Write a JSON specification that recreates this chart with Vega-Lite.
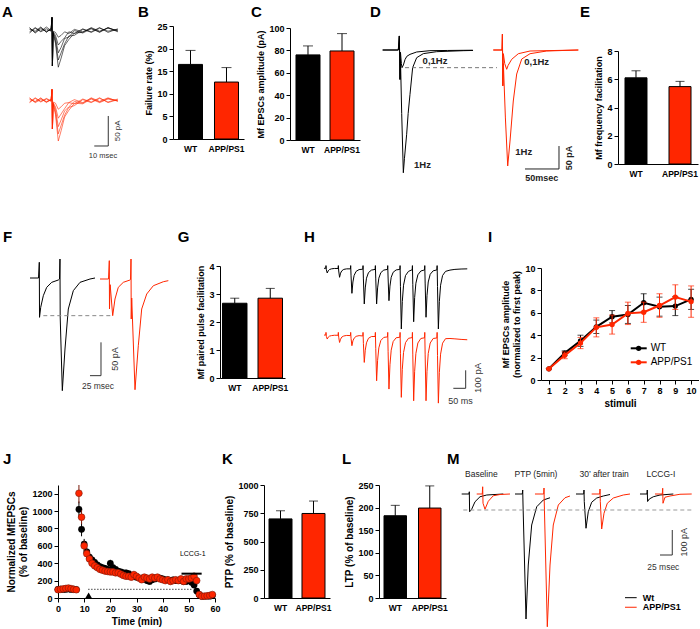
{
"$schema": "https://vega.github.io/schema/vega-lite/v6.json",
"padding": {"left": 2, "top": 4, "right": 0, "bottom": 0},
"background": "white",
"config": {
  "view": {"stroke": null},
  "font": "Liberation Sans",
  "axis": {"domainColor": "#000", "tickColor": "#000", "labelColor": "#000", "titleColor": "#000", "labelFont": "Liberation Sans", "titleFont": "Liberation Sans", "labelFontWeight": "bold", "titleFontWeight": "bold", "labelFontSize": 9, "titleFontSize": 9, "tickSize": 4, "grid": false, "labelPadding": 2, "titlePadding": 3, "labelFlush": false, "labelOverlap": false},
  "axisBand": {"ticks": false, "labelPadding": 5, "labelFontSize": 8.5, "labelAngle": 0},
  "text": {"font": "Liberation Sans"}
},
"resolve": {"scale": {"color": "independent"}},
"spacing": 46,
"vconcat": [
{"hconcat": [
 {"width": 69, "height": 138,
  "layer": [
   {"data": {"values": [
    {"t":-16,"b1":3,"b2":-3,"b3":1,"b4":-5,"b5":4,"r1":-114,"r2":-120,"r3":-116,"r4":-121,"r5":-113},
    {"t":-12,"b1":-4,"b2":4,"b3":-2,"b4":3,"b5":-5,"r1":-120,"r2":-113,"r3":-119,"r4":-114,"r5":-121},
    {"t":-8,"b1":4,"b2":-2,"b3":5,"b4":-3,"b5":2,"r1":-113,"r2":-119,"r3":-114,"r4":-120,"r5":-116},
    {"t":-4,"b1":-3,"b2":5,"b3":-4,"b4":2,"b5":-2,"r1":-121,"r2":-114,"r3":-120,"r4":-115,"r5":-119},
    {"t":-0.6,"b1":2,"b2":-1,"b3":3,"b4":-2,"b5":0,"r1":-115,"r2":-118,"r3":-116,"r4":-119,"r5":-117},
    {"t":0,"b1":21,"b2":21,"b3":21,"b4":21,"b5":21,"r1":-99,"r2":-99,"r3":-99,"r4":-99,"r5":-99},
    {"t":0.3,"b1":-60,"b2":-60,"b3":-60,"b4":-60,"b5":-60,"r1":-165,"r2":-165,"r3":-165,"r4":-165,"r5":-165},
    {"t":0.8,"b1":-2,"b2":-3,"b3":-4,"b4":-5,"b5":-6,"r1":-120,"r2":-121,"r3":-122,"r4":-123,"r5":-124},
    {"t":2.5,"b1":-4,"b2":-9,"b3":-13,"b4":-18,"b5":-22,"r1":-122,"r2":-128,"r3":-132,"r4":-137,"r5":-141},
    {"t":4.5,"b1":-12,"b2":-25,"b3":-38,"b4":-50,"b5":-62,"r1":-132,"r2":-147,"r3":-161,"r4":-173,"r5":-185},
    {"t":6.5,"b1":-9,"b2":-19,"b3":-29,"b4":-38,"b5":-47,"r1":-128,"r2":-140,"r3":-150,"r4":-159,"r5":-168},
    {"t":9,"b1":-3,"b2":-13,"b3":-14,"b4":-23,"b5":-26,"r1":-122,"r2":-131,"r3":-135,"r4":-142,"r5":-145},
    {"t":12,"b1":-6,"b2":-3,"b3":-12,"b4":-10,"b5":-16,"r1":-121,"r2":-121,"r3":-128,"r4":-129,"r5":-134},
    {"t":16,"b1":1,"b2":-6,"b3":-1,"b4":-9,"b5":-5,"r1":-116,"r2":-123,"r3":-119,"r4":-126,"r5":-122},
    {"t":22,"b1":-3,"b2":2,"b3":-5,"b4":1,"b5":-4,"r1":-121,"r2":-115,"r3":-122,"r4":-116,"r5":-123},
    {"t":28,"b1":3,"b2":-4,"b3":2,"b4":-3,"b5":4,"r1":-114,"r2":-120,"r3":-113,"r4":-121,"r5":-115},
    {"t":34,"b1":-4,"b2":3,"b3":-3,"b4":4,"b5":-2,"r1":-120,"r2":-113,"r3":-119,"r4":-114,"r5":-121},
    {"t":40,"b1":4,"b2":-2,"b3":4,"b4":-4,"b5":3,"r1":-114,"r2":-121,"r3":-113,"r4":-120,"r5":-115},
    {"t":47,"b1":-2,"b2":1,"b3":-3,"b4":2,"b5":-1,"r1":-118,"r2":-116,"r3":-119,"r4":-115,"r5":-118}
   ]},
    "transform": [{"fold": ["b1","b2","b3","b4","b5","r1","r2","r3","r4","r5"], "as": ["id","v"]}],
    "mark": {"type": "line", "strokeWidth": 0.6},
    "encoding": {
     "x": {"field": "t", "type": "quantitative", "scale": {"domain": [4.29, 53.57], "nice": false}, "axis": null},
     "y": {"field": "v", "type": "quantitative", "scale": {"domain": [-223.3, 6.67], "nice": false}, "axis": null},
     "color": {"field": "id", "type": "nominal", "scale": {"domain": ["b1","b2","b3","b4","b5","r1","r2","r3","r4","r5"], "range": ["#000","#000","#000","#000","#000","#ff2600","#ff2600","#ff2600","#ff2600","#ff2600"]}, "legend": null}
    }},
   {"data": {"values": [{}]}, "mark": {"type": "text", "text": "A", "fontSize": 15, "fontWeight": "bold", "align": "left", "baseline": "alphabetic", "color": "#000"}, "encoding": {"x": {"datum": -35.7, "scale": {"domain": [4.29, 53.57], "nice": false}, "axis": null}, "y": {"datum": 22.2, "scale": {"domain": [-223.3, 6.67], "nice": false}, "axis": null}}},
   {"data": {"values": [{}]}, "mark": {"type": "rule", "color": "#333"}, "encoding": {"x": {"datum": 40.2, "scale": {"domain": [4.29, 53.57], "nice": false}, "axis": null}, "y": {"datum": -143.3, "scale": {"domain": [-223.3, 6.67], "nice": false}, "axis": null}, "y2": {"datum": -193.3}}},
   {"data": {"values": [{}]}, "mark": {"type": "rule", "color": "#333"}, "encoding": {"x": {"datum": 30.2, "scale": {"domain": [4.29, 53.57], "nice": false}, "axis": null}, "x2": {"datum": 40.2}, "y": {"datum": -193.3, "scale": {"domain": [-223.3, 6.67], "nice": false}, "axis": null}}},
   {"data": {"values": [{}]}, "mark": {"type": "text", "angle": 270, "fontSize": 8, "color": "#333"}, "encoding": {"x": {"datum": 47.1, "scale": {"domain": [4.29, 53.57], "nice": false}, "axis": null}, "y": {"datum": -168, "scale": {"domain": [-223.3, 6.67], "nice": false}, "axis": null}, "text": {"value": "50 pA"}}},
   {"data": {"values": [{}]}, "mark": {"type": "text", "fontSize": 7.5, "color": "#333"}, "encoding": {"x": {"datum": 36.4, "scale": {"domain": [4.29, 53.57], "nice": false}, "axis": null}, "y": {"datum": -210, "scale": {"domain": [-223.3, 6.67], "nice": false}, "axis": null}, "text": {"value": "10 msec"}}}
  ]},
 {"width": 71, "height": 113,
  "data": {"values": [{"g":"WT","v":16.5,"e":19.6},{"g":"APP/PS1","v":12.6,"e":15.8}]},
  "encoding": {"x": {"field": "g", "type": "nominal", "sort": ["WT","APP/PS1"], "scale": {"paddingInner": 0.333, "paddingOuter": 0.153}, "axis": {"title": null}}},
  "layer": [
   {"mark": {"type": "bar", "stroke": "#000", "strokeWidth": 1},
    "encoding": {"y": {"field": "v", "type": "quantitative", "title": "Failure rate (%)", "scale": {"domain": [0,25], "nice": false}, "axis": {"values": [0,5,10,15,20,25], "tickCount": 50, "format": "d", "labelOverlap": false}},
     "color": {"field": "g", "type": "nominal", "scale": {"domain": ["WT","APP/PS1"], "range": ["#000000","#ff2600"]}, "legend": null}}},
   {"mark": {"type": "rule", "color": "#000"}, "encoding": {"y": {"field": "v", "type": "quantitative", "title": "Failure rate (%)", "scale": {"domain": [0,25], "nice": false}}, "y2": {"field": "e"}}},
   {"mark": {"type": "tick", "color": "#000", "size": 10, "thickness": 1}, "encoding": {"y": {"field": "e", "type": "quantitative", "title": "Failure rate (%)", "scale": {"domain": [0,25], "nice": false}}}},
   {"data": {"values": [{}]}, "mark": {"type": "text", "text": "B", "fontSize": 15, "fontWeight": "bold", "align": "left", "baseline": "alphabetic", "dx": -52.5, "color": "#000"}, "encoding": {"x": {"datum": "WT"}, "y": {"datum": 27.06, "title": "Failure rate (%)", "scale": {"domain": [0,25], "nice": false}}}}
  ]},
 {"width": 70, "height": 114,
  "data": {"values": [{"g":"WT","v":76,"e":84},{"g":"APP/PS1","v":79.5,"e":95}]},
  "encoding": {"x": {"field": "g", "type": "nominal", "sort": ["WT","APP/PS1"], "scale": {"paddingInner": 0.294, "paddingOuter": 0.176}, "axis": {"title": null}}},
  "layer": [
   {"mark": {"type": "bar", "stroke": "#000", "strokeWidth": 1},
    "encoding": {"y": {"field": "v", "type": "quantitative", "title": "Mf EPSCs amplitude (pA)", "scale": {"domain": [0,100], "range": [114, 2], "nice": false}, "axis": {"values": [0,20,40,60,80,100], "tickCount": 50, "format": "d", "labelOverlap": false}},
     "color": {"field": "g", "type": "nominal", "scale": {"domain": ["WT","APP/PS1"], "range": ["#000000","#ff2600"]}, "legend": null}}},
   {"mark": {"type": "rule", "color": "#000"}, "encoding": {"y": {"field": "v", "type": "quantitative", "title": "Mf EPSCs amplitude (pA)", "scale": {"domain": [0,100], "nice": false}}, "y2": {"field": "e"}}},
   {"mark": {"type": "tick", "color": "#000", "size": 10, "thickness": 1}, "encoding": {"y": {"field": "e", "type": "quantitative", "title": "Mf EPSCs amplitude (pA)", "scale": {"domain": [0,100], "nice": false}}}},
   {"data": {"values": [{}]}, "mark": {"type": "text", "text": "C", "fontSize": 15, "fontWeight": "bold", "align": "left", "baseline": "alphabetic", "dx": -57, "color": "#000"}, "encoding": {"x": {"datum": "WT"}, "y": {"datum": 110.1, "title": "Mf EPSCs amplitude (pA)", "scale": {"domain": [0,100], "nice": false}}}}
  ]},
 {"width": 166, "height": 138,
  "layer": [
   {"data": {"values": [
    {"id":"d1","t":-25.5,"v":0},{"id":"d1","t":-2.5,"v":0},{"id":"d1","t":-1,"v":31},{"id":"d1","t":0,"v":-65},{"id":"d1","t":0.7,"v":-5},{"id":"d1","t":2,"v":-30},{"id":"d1","t":3,"v":-39},{"id":"d1","t":5,"v":-33},{"id":"d1","t":7.4,"v":-21},{"id":"d1","t":10,"v":-14},{"id":"d1","t":14.7,"v":-9.6},{"id":"d1","t":24.5,"v":-4.4},{"id":"d1","t":44,"v":-1.5},{"id":"d1","t":70,"v":-1},{"id":"d1","t":107,"v":-0.5},
    {"id":"d2","t":-25.5,"v":0},{"id":"d2","t":-2.5,"v":0},{"id":"d2","t":-1,"v":31},{"id":"d2","t":0,"v":-65},{"id":"d2","t":0.7,"v":-20},{"id":"d2","t":2.5,"v":-140},{"id":"d2","t":4.9,"v":-271},{"id":"d2","t":6.5,"v":-240},{"id":"d2","t":9.8,"v":-186},{"id":"d2","t":12,"v":-140},{"id":"d2","t":14.7,"v":-98},{"id":"d2","t":18.6,"v":-39},{"id":"d2","t":24.5,"v":-17},{"id":"d2","t":34.3,"v":-8},{"id":"d2","t":53.9,"v":-3.7},{"id":"d2","t":93.1,"v":-1.5},{"id":"d2","t":107.4,"v":-1},
    {"id":"d3","t":137.2,"v":0},{"id":"d3","t":150,"v":0},{"id":"d3","t":150.6,"v":35},{"id":"d3","t":151.2,"v":-79},{"id":"d3","t":152,"v":-8},{"id":"d3","t":154,"v":-30},{"id":"d3","t":156.9,"v":-42.6},{"id":"d3","t":159,"v":-34},{"id":"d3","t":164.3,"v":-20.5},{"id":"d3","t":174,"v":-8.2},{"id":"d3","t":191.2,"v":-2.2},{"id":"d3","t":262.2,"v":0},
    {"id":"d4","t":137.2,"v":0},{"id":"d4","t":150,"v":0},{"id":"d4","t":150.6,"v":35},{"id":"d4","t":151.2,"v":-79},{"id":"d4","t":152,"v":-30},{"id":"d4","t":155,"v":-150},{"id":"d4","t":158.4,"v":-256},{"id":"d4","t":161.8,"v":-201},{"id":"d4","t":166.6,"v":-112.6},{"id":"d4","t":171.6,"v":-53},{"id":"d4","t":179,"v":-19.9},{"id":"d4","t":191.2,"v":-8.2},{"id":"d4","t":215.7,"v":-2.2},{"id":"d4","t":262.2,"v":0}
   ]},
    "mark": {"type": "line", "strokeWidth": 1},
    "encoding": {
     "x": {"field": "t", "type": "quantitative", "scale": {"domain": [8.82, 252.94], "nice": false}, "axis": null},
     "y": {"field": "v", "type": "quantitative", "scale": {"domain": [-251.7, 53], "nice": false}, "axis": null},
     "color": {"field": "id", "type": "nominal", "scale": {"domain": ["d1","d2","d3","d4"], "range": ["#000","#000","#ff2600","#ff2600"]}, "legend": null}
    }},
   {"data": {"values": [{}]}, "mark": {"type": "text", "text": "D", "fontSize": 15, "fontWeight": "bold", "align": "left", "baseline": "alphabetic", "color": "#000"}, "encoding": {"x": {"datum": -44.1, "scale": {"domain": [8.82, 252.94], "nice": false}, "axis": null}, "y": {"datum": 73.5, "scale": {"domain": [-251.7, 53], "nice": false}, "axis": null}}},
   {"data": {"values": [{}]}, "mark": {"type": "rule", "color": "#777", "strokeDash": [4,3]}, "encoding": {"x": {"datum": 7.4, "scale": {"domain": [8.82, 252.94], "nice": false}, "axis": null}, "x2": {"datum": 142.6}, "y": {"datum": -39, "scale": {"domain": [-251.7, 53], "nice": false}, "axis": null}}},
   {"data": {"values": [{}]}, "mark": {"type": "text", "fontWeight": "bold", "fontSize": 9.5, "color": "#222"}, "encoding": {"x": {"datum": 51.5, "scale": {"domain": [8.82, 252.94], "nice": false}, "axis": null}, "y": {"datum": -24.3, "scale": {"domain": [-251.7, 53], "nice": false}, "axis": null}, "text": {"value": "0,1Hz"}}},
   {"data": {"values": [{}]}, "mark": {"type": "text", "fontWeight": "bold", "fontSize": 9.5, "color": "#222"}, "encoding": {"x": {"datum": 201, "scale": {"domain": [8.82, 252.94], "nice": false}, "axis": null}, "y": {"datum": -26.5, "scale": {"domain": [-251.7, 53], "nice": false}, "axis": null}, "text": {"value": "0,1Hz"}}},
   {"data": {"values": [{}]}, "mark": {"type": "text", "fontWeight": "bold", "fontSize": 9.5, "color": "#222"}, "encoding": {"x": {"datum": 33, "scale": {"domain": [8.82, 252.94], "nice": false}, "axis": null}, "y": {"datum": -254, "scale": {"domain": [-251.7, 53], "nice": false}, "axis": null}, "text": {"value": "1Hz"}}},
   {"data": {"values": [{}]}, "mark": {"type": "text", "fontWeight": "bold", "fontSize": 9.5, "color": "#222"}, "encoding": {"x": {"datum": 182, "scale": {"domain": [8.82, 252.94], "nice": false}, "axis": null}, "y": {"datum": -224.5, "scale": {"domain": [-251.7, 53], "nice": false}, "axis": null}, "text": {"value": "1Hz"}}},
   {"data": {"values": [{}]}, "mark": {"type": "rule", "color": "#222"}, "encoding": {"x": {"datum": 233.8, "scale": {"domain": [8.82, 252.94], "nice": false}, "axis": null}, "y": {"datum": -212, "scale": {"domain": [-251.7, 53], "nice": false}, "axis": null}, "y2": {"datum": -262.7}}},
   {"data": {"values": [{}]}, "mark": {"type": "rule", "color": "#222"}, "encoding": {"x": {"datum": 183.8, "scale": {"domain": [8.82, 252.94], "nice": false}, "axis": null}, "x2": {"datum": 233.8}, "y": {"datum": -262.7, "scale": {"domain": [-251.7, 53], "nice": false}, "axis": null}}},
   {"data": {"values": [{}]}, "mark": {"type": "text", "angle": 270, "fontWeight": "bold", "fontSize": 9, "color": "#222"}, "encoding": {"x": {"datum": 248, "scale": {"domain": [8.82, 252.94], "nice": false}, "axis": null}, "y": {"datum": -238.4, "scale": {"domain": [-251.7, 53], "nice": false}, "axis": null}, "text": {"value": "50 pA"}}},
   {"data": {"values": [{}]}, "mark": {"type": "text", "fontWeight": "bold", "fontSize": 9, "color": "#222"}, "encoding": {"x": {"datum": 208.4, "scale": {"domain": [8.82, 252.94], "nice": false}, "axis": null}, "y": {"datum": -282.6, "scale": {"domain": [-251.7, 53], "nice": false}, "axis": null}, "text": {"value": "50msec"}}}
  ]},
 {"width": 80, "height": 138,
  "data": {"values": [{"g":"WT","v":6.1,"e":6.6},{"g":"APP/PS1","v":5.48,"e":5.85}]},
  "encoding": {"x": {"field": "g", "type": "nominal", "sort": ["WT","APP/PS1"], "scale": {"paddingInner": 0.5, "paddingOuter": 0.159}, "axis": {"title": null}}},
  "layer": [
   {"mark": {"type": "bar", "stroke": "#000", "strokeWidth": 1},
    "encoding": {"y": {"field": "v", "type": "quantitative", "title": "Mf frequency facilitation", "scale": {"domain": [0,8], "range": [138, 25], "nice": false}, "axis": {"values": [0,2,4,6,8], "tickCount": 50, "format": "d", "labelOverlap": false}},
     "color": {"field": "g", "type": "nominal", "scale": {"domain": ["WT","APP/PS1"], "range": ["#000000","#ff2600"]}, "legend": null}}},
   {"mark": {"type": "rule", "color": "#000"}, "encoding": {"y": {"field": "v", "type": "quantitative", "title": "Mf frequency facilitation", "scale": {"domain": [0,8], "nice": false}}, "y2": {"field": "e"}}},
   {"mark": {"type": "tick", "color": "#000", "size": 9, "thickness": 1}, "encoding": {"y": {"field": "e", "type": "quantitative", "title": "Mf frequency facilitation", "scale": {"domain": [0,8], "nice": false}}}},
   {"data": {"values": [{}]}, "mark": {"type": "text", "text": "E", "fontSize": 15, "fontWeight": "bold", "align": "left", "baseline": "alphabetic", "dx": -56, "color": "#000"}, "encoding": {"x": {"datum": "WT"}, "y": {"datum": 10.43, "title": "Mf frequency facilitation", "scale": {"domain": [0,8], "nice": false}}}}
  ]}
], "spacing": 46, "bounds": "flush", "resolve": {"scale": {"color": "independent"}}},
{"spacing": 43, "resolve": {"scale": {"color": "independent"}}, "vconcat": [
{"hconcat": [
 {"width": 116, "height": 114,
  "layer": [
   {"data": {"values": [
    {"id":"f1","t":-21.1,"v":0},{"id":"f1","t":-1.8,"v":0},{"id":"f1","t":0,"v":23.6},{"id":"f1","t":0.5,"v":-59},{"id":"f1","t":3.2,"v":-44},{"id":"f1","t":9.1,"v":-26.6},{"id":"f1","t":16.8,"v":-14},{"id":"f1","t":28.2,"v":-6.5},{"id":"f1","t":43.2,"v":-3},{"id":"f1","t":45.9,"v":-1.5},{"id":"f1","t":47,"v":28.5},{"id":"f1","t":47.5,"v":-58.5},{"id":"f1","t":52.3,"v":-169},{"id":"f1","t":58.4,"v":-106.5},{"id":"f1","t":65.9,"v":-46.5},{"id":"f1","t":77.3,"v":-19},{"id":"f1","t":92.5,"v":-6.5},{"id":"f1","t":115.2,"v":-1.5},{"id":"f1","t":126.6,"v":0},
    {"id":"f2","t":138,"v":-1.5},{"id":"f2","t":157.3,"v":-1.5},{"id":"f2","t":159.1,"v":26},{"id":"f2","t":159.5,"v":-46.5},{"id":"f2","t":161,"v":-10},{"id":"f2","t":166.8,"v":-56.5},{"id":"f2","t":172,"v":-31.5},{"id":"f2","t":179.5,"v":-14},{"id":"f2","t":190.9,"v":-6.5},{"id":"f2","t":206.1,"v":-3},{"id":"f2","t":207.3,"v":-2.3},{"id":"f2","t":208.4,"v":28.5},{"id":"f2","t":208.9,"v":-61.5},{"id":"f2","t":210,"v":-30},{"id":"f2","t":217.5,"v":-167.6},{"id":"f2","t":225,"v":-101.6},{"id":"f2","t":232.7,"v":-46.5},{"id":"f2","t":244.1,"v":-24},{"id":"f2","t":259.1,"v":-11.6},{"id":"f2","t":281.8,"v":-5.6},{"id":"f2","t":293.2,"v":-4}
   ]},
    "mark": {"type": "line", "strokeWidth": 1},
    "encoding": {
     "x": {"field": "t", "type": "quantitative", "scale": {"domain": [42.5, 306.1], "nice": false}, "axis": null},
     "y": {"field": "v", "type": "quantitative", "scale": {"domain": [-153, 18], "nice": false}, "axis": null},
     "color": {"field": "id", "type": "nominal", "scale": {"domain": ["f1","f2"], "range": ["#000","#ff2600"]}, "legend": null}
    }},
   {"data": {"values": [{}]}, "mark": {"type": "text", "text": "F", "fontSize": 15, "fontWeight": "bold", "align": "left", "baseline": "alphabetic", "color": "#000"}, "encoding": {"x": {"datum": -82.5, "scale": {"domain": [42.5, 306.1], "nice": false}, "axis": null}, "y": {"datum": 54.5, "scale": {"domain": [-153, 18], "nice": false}, "axis": null}}},
   {"data": {"values": [{}]}, "mark": {"type": "rule", "color": "#888", "strokeDash": [4,3]}, "encoding": {"x": {"datum": 9.1, "scale": {"domain": [42.5, 306.1], "nice": false}, "axis": null}, "x2": {"datum": 164.5}, "y": {"datum": -56.5, "scale": {"domain": [-153, 18], "nice": false}, "axis": null}}},
   {"data": {"values": [{}]}, "mark": {"type": "rule", "color": "#333"}, "encoding": {"x": {"datum": 140.2, "scale": {"domain": [42.5, 306.1], "nice": false}, "axis": null}, "y": {"datum": -96.5, "scale": {"domain": [-153, 18], "nice": false}, "axis": null}, "y2": {"datum": -146.5}}},
   {"data": {"values": [{}]}, "mark": {"type": "rule", "color": "#333"}, "encoding": {"x": {"datum": 115.2, "scale": {"domain": [42.5, 306.1], "nice": false}, "axis": null}, "x2": {"datum": 140.2}, "y": {"datum": -146.5, "scale": {"domain": [-153, 18], "nice": false}, "axis": null}}},
   {"data": {"values": [{}]}, "mark": {"type": "text", "angle": 270, "fontSize": 9, "color": "#333"}, "encoding": {"x": {"datum": 172, "scale": {"domain": [42.5, 306.1], "nice": false}, "axis": null}, "y": {"datum": -121.5, "scale": {"domain": [-153, 18], "nice": false}, "axis": null}, "text": {"value": "50 pA"}}},
   {"data": {"values": [{}]}, "mark": {"type": "text", "fontSize": 8.5, "color": "#333"}, "encoding": {"x": {"datum": 133.4, "scale": {"domain": [42.5, 306.1], "nice": false}, "axis": null}, "y": {"datum": -161.5, "scale": {"domain": [-153, 18], "nice": false}, "axis": null}, "text": {"value": "25 msec"}}}
  ]},
 {"width": 65, "height": 112,
  "data": {"values": [{"g":"WT","v":2.67,"e":2.85},{"g":"APP/PS1","v":2.85,"e":3.2}]},
  "encoding": {"x": {"field": "g", "type": "nominal", "sort": ["WT","APP/PS1"], "scale": {"paddingInner": 0.31, "paddingOuter": 0.07}, "axis": {"title": null}}},
  "layer": [
   {"mark": {"type": "bar", "stroke": "#000", "strokeWidth": 1},
    "encoding": {"y": {"field": "v", "type": "quantitative", "title": "Mf paired pulse facilitation", "scale": {"domain": [0,4], "nice": false}, "axis": {"values": [0,1,2,3,4], "tickCount": 50, "format": "d", "labelOverlap": false}},
     "color": {"field": "g", "type": "nominal", "scale": {"domain": ["WT","APP/PS1"], "range": ["#000000","#ff2600"]}, "legend": null}}},
   {"mark": {"type": "rule", "color": "#000"}, "encoding": {"y": {"field": "v", "type": "quantitative", "title": "Mf paired pulse facilitation", "scale": {"domain": [0,4], "nice": false}}, "y2": {"field": "e"}}},
   {"mark": {"type": "tick", "color": "#000", "size": 9, "thickness": 1}, "encoding": {"y": {"field": "e", "type": "quantitative", "title": "Mf paired pulse facilitation", "scale": {"domain": [0,4], "nice": false}}}},
   {"data": {"values": [{}]}, "mark": {"type": "text", "text": "G", "fontSize": 15, "fontWeight": "bold", "align": "left", "baseline": "alphabetic", "dx": -57, "color": "#000"}, "encoding": {"x": {"datum": "WT"}, "y": {"datum": 4.87, "title": "Mf paired pulse facilitation", "scale": {"domain": [0,4], "nice": false}}}}
  ]},
 {"width": 164, "height": 114,
  "layer": [
   {"data": {"values": [
    {"t":0,"h1":0,"h2":-371},{"t":7,"h1":0,"h2":-371},{"t":8,"h1":15,"h2":-356},{"t":9.5,"h1":-8,"h2":-378},{"t":13,"h1":-26,"h2":-393},{"t":17,"h1":-14,"h2":-383},{"t":22,"h1":-7,"h2":-377},{"t":30,"h1":-3,"h2":-374},{"t":42,"h1":-1,"h2":-372},
    {"t":57,"h1":-1,"h2":-372},{"t":58,"h1":15,"h2":-356},{"t":59.5,"h1":-15,"h2":-383},{"t":63,"h1":-50,"h2":-412},{"t":67,"h1":-27,"h2":-394},{"t":72,"h1":-14,"h2":-382},{"t":80,"h1":-6,"h2":-376},{"t":92,"h1":-3,"h2":-373},
    {"t":107,"h1":-3,"h2":-374},{"t":108,"h1":15,"h2":-356},{"t":109.5,"h1":-42,"h2":-389},{"t":113,"h1":-139,"h2":-430},{"t":117,"h1":-76,"h2":-403},{"t":122,"h1":-39,"h2":-388},{"t":130,"h1":-17,"h2":-378},{"t":142,"h1":-7,"h2":-374},
    {"t":157,"h1":-5,"h2":-376},{"t":158,"h1":15,"h2":-356},{"t":159.5,"h1":-59,"h2":-417},{"t":163,"h1":-198,"h2":-523},{"t":167,"h1":-109,"h2":-455},{"t":172,"h1":-55,"h2":-414},{"t":180,"h1":-24,"h2":-389},{"t":192,"h1":-10,"h2":-379},
    {"t":207,"h1":-6,"h2":-379},{"t":208,"h1":15,"h2":-356},{"t":209.5,"h1":-59,"h2":-447},{"t":213,"h1":-198,"h2":-625},{"t":217,"h1":-109,"h2":-511},{"t":222,"h1":-55,"h2":-442},{"t":230,"h1":-24,"h2":-401},{"t":242,"h1":-10,"h2":-384},
    {"t":257,"h1":-6,"h2":-381},{"t":258,"h1":15,"h2":-356},{"t":259.5,"h1":-54,"h2":-461},{"t":263,"h1":-180,"h2":-671},{"t":267,"h1":-99,"h2":-536},{"t":272,"h1":-50,"h2":-455},{"t":280,"h1":-22,"h2":-407},{"t":292,"h1":-9,"h2":-386},
    {"t":307,"h1":-6,"h2":-383},{"t":308,"h1":15,"h2":-356},{"t":309.5,"h1":-101,"h2":-475},{"t":313,"h1":-337,"h2":-717},{"t":317,"h1":-185,"h2":-561},{"t":322,"h1":-94,"h2":-468},{"t":330,"h1":-40,"h2":-413},{"t":342,"h1":-17,"h2":-389},
    {"t":357,"h1":-8,"h2":-385},{"t":358,"h1":15,"h2":-356},{"t":359.5,"h1":-89,"h2":-481},{"t":363,"h1":-297,"h2":-736},{"t":367,"h1":-163,"h2":-572},{"t":372,"h1":-83,"h2":-473},{"t":380,"h1":-36,"h2":-415},{"t":392,"h1":-15,"h2":-390},
    {"t":407,"h1":-9,"h2":-386},{"t":408,"h1":15,"h2":-356},{"t":409.5,"h1":-82,"h2":-481},{"t":413,"h1":-272,"h2":-736},{"t":417,"h1":-150,"h2":-572},{"t":422,"h1":-76,"h2":-473},{"t":430,"h1":-33,"h2":-415},{"t":442,"h1":-14,"h2":-390},
    {"t":457,"h1":-9,"h2":-387},{"t":458,"h1":15,"h2":-356},{"t":459.5,"h1":-101,"h2":-484},{"t":463,"h1":-337,"h2":-749},{"t":467,"h1":-185,"h2":-579},{"t":472,"h1":-94,"h2":-477},{"t":480,"h1":-40,"h2":-416},{"t":492,"h1":-17,"h2":-391},
    {"t":510,"h1":-10,"h2":-390},{"t":530,"h1":-6,"h2":-392},{"t":555,"h1":-4,"h2":-395},{"t":580,"h1":-3,"h2":-397}
   ]},
    "transform": [{"fold": ["h1","h2"], "as": ["id","v"]}],
    "mark": {"type": "line", "strokeWidth": 1},
    "encoding": {
     "x": {"field": "t", "type": "quantitative", "scale": {"domain": [28.3, 692.3], "nice": false}, "axis": null},
     "y": {"field": "v", "type": "quantitative", "scale": {"domain": [-620.6, 12.8], "nice": false}, "axis": null},
     "color": {"field": "id", "type": "nominal", "scale": {"domain": ["h1","h2"], "range": ["#000","#ff2600"]}, "legend": null}
    }},
   {"data": {"values": [{}]}, "mark": {"type": "text", "text": "H", "fontSize": 15, "fontWeight": "bold", "align": "left", "baseline": "alphabetic", "color": "#000"}, "encoding": {"x": {"datum": -81, "scale": {"domain": [28.3, 692.3], "nice": false}, "axis": null}, "y": {"datum": 147.8, "scale": {"domain": [-620.6, 12.8], "nice": false}, "axis": null}}},
   {"data": {"values": [{}]}, "mark": {"type": "rule", "color": "#333"}, "encoding": {"x": {"datum": 573.6, "scale": {"domain": [28.3, 692.3], "nice": false}, "axis": null}, "y": {"datum": -566.7, "scale": {"domain": [-620.6, 12.8], "nice": false}, "axis": null}, "y2": {"datum": -666.7}}},
   {"data": {"values": [{}]}, "mark": {"type": "rule", "color": "#333"}, "encoding": {"x": {"datum": 523.6, "scale": {"domain": [28.3, 692.3], "nice": false}, "axis": null}, "x2": {"datum": 573.6}, "y": {"datum": -666.7, "scale": {"domain": [-620.6, 12.8], "nice": false}, "axis": null}}},
   {"data": {"values": [{}]}, "mark": {"type": "text", "fontSize": 9, "color": "#333"}, "encoding": {"x": {"datum": 552.6, "scale": {"domain": [28.3, 692.3], "nice": false}, "axis": null}, "y": {"datum": -735.6, "scale": {"domain": [-620.6, 12.8], "nice": false}, "axis": null}, "text": {"value": "50 ms"}}},
   {"data": {"values": [{}]}, "mark": {"type": "text", "angle": 270, "fontSize": 9.5, "color": "#333"}, "encoding": {"x": {"datum": 624.7, "scale": {"domain": [28.3, 692.3], "nice": false}, "axis": null}, "y": {"datum": -609, "scale": {"domain": [-620.6, 12.8], "nice": false}, "axis": null}, "text": {"value": "100 pA"}}}
  ]},
 {"width": 158, "height": 114,
  "layer": [
   {"data": {"values": [
    {"s":1,"wm":1,"wl":1,"wh":1,"rm":1,"rl":1,"rh":1},
    {"s":2,"wm":2.4,"wl":2.2,"wh":2.6,"rm":2.2,"rl":1.9,"rh":2.5},
    {"s":3,"wm":3.5,"wl":3.0,"wh":4.0,"rm":3.3,"rl":2.8,"rh":3.8},
    {"s":4,"wm":4.75,"wl":4.15,"wh":5.35,"rm":4.7,"rl":3.85,"rh":5.55},
    {"s":5,"wm":5.65,"wl":5.1,"wh":6.2,"rm":4.95,"rl":4.1,"rh":5.8},
    {"s":6,"wm":5.85,"wl":5.05,"wh":6.65,"rm":5.95,"rl":4.95,"rh":6.95},
    {"s":7,"wm":6.9,"wl":6.1,"wh":7.7,"rm":6.05,"rl":5.15,"rh":6.95},
    {"s":8,"wm":6.55,"wl":5.7,"wh":7.4,"rm":6.65,"rl":5.6,"rh":7.7},
    {"s":9,"wm":6.6,"wl":5.75,"wh":7.45,"rm":7.4,"rl":6.3,"rh":8.5},
    {"s":10,"wm":7.2,"wl":6.3,"wh":8.1,"rm":7.0,"rl":5.6,"rh":8.4}
   ]},
    "encoding": {"x": {"field": "s", "type": "quantitative", "title": "stimuli", "scale": {"domain": [0.5, 10.5], "nice": false}, "axis": {"values": [1,2,3,4,5,6,7,8,9,10], "tickCount": 50, "format": "d", "labelOverlap": false, "titleFontSize": 10}}},
    "layer": [
     {"mark": {"type": "rule", "color": "#000"}, "encoding": {"y": {"field": "wl", "type": "quantitative", "title": ["Mf EPSCs amplitude","(normalized to first peak)"], "scale": {"domain": [0,10], "range": [114, 2], "nice": false}, "axis": {"values": [0,2,4,6,8,10], "tickCount": 50, "format": "d", "labelOverlap": false}}, "y2": {"field": "wh"}}},
     {"mark": {"type": "tick", "color": "#000", "orient": "horizontal", "size": 6, "thickness": 1}, "encoding": {"y": {"field": "wl", "type": "quantitative", "title": ["Mf EPSCs amplitude","(normalized to first peak)"], "scale": {"domain": [0,10], "nice": false}}}},
     {"mark": {"type": "tick", "color": "#000", "orient": "horizontal", "size": 6, "thickness": 1}, "encoding": {"y": {"field": "wh", "type": "quantitative", "title": ["Mf EPSCs amplitude","(normalized to first peak)"], "scale": {"domain": [0,10], "nice": false}}}},
     {"mark": {"type": "line", "color": "#000", "strokeWidth": 2}, "encoding": {"y": {"field": "wm", "type": "quantitative", "title": ["Mf EPSCs amplitude","(normalized to first peak)"], "scale": {"domain": [0,10], "nice": false}}}},
     {"mark": {"type": "point", "filled": true, "opacity": 1, "color": "#000", "size": 28}, "encoding": {"y": {"field": "wm", "type": "quantitative", "title": ["Mf EPSCs amplitude","(normalized to first peak)"], "scale": {"domain": [0,10], "nice": false}}}},
     {"mark": {"type": "rule", "color": "#ff2600"}, "encoding": {"y": {"field": "rl", "type": "quantitative", "title": ["Mf EPSCs amplitude","(normalized to first peak)"], "scale": {"domain": [0,10], "nice": false}}, "y2": {"field": "rh"}}},
     {"mark": {"type": "tick", "color": "#ff2600", "orient": "horizontal", "size": 6, "thickness": 1}, "encoding": {"y": {"field": "rl", "type": "quantitative", "title": ["Mf EPSCs amplitude","(normalized to first peak)"], "scale": {"domain": [0,10], "nice": false}}}},
     {"mark": {"type": "tick", "color": "#ff2600", "orient": "horizontal", "size": 6, "thickness": 1}, "encoding": {"y": {"field": "rh", "type": "quantitative", "title": ["Mf EPSCs amplitude","(normalized to first peak)"], "scale": {"domain": [0,10], "nice": false}}}},
     {"mark": {"type": "line", "color": "#ff2600", "strokeWidth": 2}, "encoding": {"y": {"field": "rm", "type": "quantitative", "title": ["Mf EPSCs amplitude","(normalized to first peak)"], "scale": {"domain": [0,10], "nice": false}}}},
     {"mark": {"type": "point", "filled": true, "opacity": 1, "color": "#ff2600", "size": 28}, "encoding": {"y": {"field": "rm", "type": "quantitative", "title": ["Mf EPSCs amplitude","(normalized to first peak)"], "scale": {"domain": [0,10], "nice": false}}}}
    ]},
   {"data": {"values": [{}]}, "mark": {"type": "text", "text": "I", "fontSize": 15, "fontWeight": "bold", "align": "left", "baseline": "alphabetic", "color": "#000"}, "encoding": {"x": {"datum": -2.85, "title": "stimuli", "scale": {"domain": [0.5, 10.5], "nice": false}}, "y": {"datum": 12.35, "title": ["Mf EPSCs amplitude","(normalized to first peak)"], "scale": {"domain": [0,10], "nice": false}}}},
   {"data": {"values": [{}]}, "mark": {"type": "rule", "color": "#000", "strokeWidth": 2}, "encoding": {"x": {"datum": 6.18, "title": "stimuli", "scale": {"domain": [0.5, 10.5], "nice": false}}, "x2": {"datum": 7.19}, "y": {"datum": 2.83, "title": ["Mf EPSCs amplitude","(normalized to first peak)"], "scale": {"domain": [0,10], "nice": false}}}},
   {"data": {"values": [{}]}, "mark": {"type": "point", "filled": true, "opacity": 1, "color": "#000", "size": 28}, "encoding": {"x": {"datum": 6.68, "title": "stimuli", "scale": {"domain": [0.5, 10.5], "nice": false}}, "y": {"datum": 2.83, "title": ["Mf EPSCs amplitude","(normalized to first peak)"], "scale": {"domain": [0,10], "nice": false}}}},
   {"data": {"values": [{}]}, "mark": {"type": "text", "align": "left", "fontSize": 10, "color": "#000"}, "encoding": {"x": {"datum": 7.44, "title": "stimuli", "scale": {"domain": [0.5, 10.5], "nice": false}}, "y": {"datum": 2.83, "title": ["Mf EPSCs amplitude","(normalized to first peak)"], "scale": {"domain": [0,10], "nice": false}}, "text": {"value": "WT"}}},
   {"data": {"values": [{}]}, "mark": {"type": "rule", "color": "#ff2600", "strokeWidth": 2}, "encoding": {"x": {"datum": 6.18, "title": "stimuli", "scale": {"domain": [0.5, 10.5], "nice": false}}, "x2": {"datum": 7.19}, "y": {"datum": 1.58, "title": ["Mf EPSCs amplitude","(normalized to first peak)"], "scale": {"domain": [0,10], "nice": false}}}},
   {"data": {"values": [{}]}, "mark": {"type": "point", "filled": true, "opacity": 1, "color": "#ff2600", "size": 28}, "encoding": {"x": {"datum": 6.68, "title": "stimuli", "scale": {"domain": [0.5, 10.5], "nice": false}}, "y": {"datum": 1.58, "title": ["Mf EPSCs amplitude","(normalized to first peak)"], "scale": {"domain": [0,10], "nice": false}}}},
   {"data": {"values": [{}]}, "mark": {"type": "text", "align": "left", "fontSize": 10, "color": "#000"}, "encoding": {"x": {"datum": 7.44, "title": "stimuli", "scale": {"domain": [0.5, 10.5], "nice": false}}, "y": {"datum": 1.58, "title": ["Mf EPSCs amplitude","(normalized to first peak)"], "scale": {"domain": [0,10], "nice": false}}, "text": {"value": "APP/PS1"}}}
  ]}
], "spacing": 46, "bounds": "flush", "resolve": {"scale": {"color": "independent"}}},
{"hconcat": [
 {"width": 157, "height": 113,
  "layer": [
   {"data": {"values": [
    {"t":0,"wm":100,"wl":85,"wh":115,"rm":95,"rl":80,"rh":110},
    {"t":1,"wm":102,"wl":87,"wh":117,"rm":100,"rl":85,"rh":115},
    {"t":2,"wm":98,"wl":83,"wh":113,"rm":105,"rl":90,"rh":120},
    {"t":3,"wm":100,"wl":85,"wh":115,"rm":110,"rl":95,"rh":125},
    {"t":4,"wm":104,"wl":89,"wh":119,"rm":115,"rl":100,"rh":130},
    {"t":5,"wm":99,"wl":84,"wh":114,"rm":108,"rl":93,"rh":123},
    {"t":6,"wm":101,"wl":86,"wh":116,"rm":100,"rl":85,"rh":115},
    {"t":7,"wm":97,"wl":82,"wh":112,"rm":95,"rl":80,"rh":110},
    {"t":8,"wm":1020,"wl":930,"wh":1110,"rm":1205,"rl":1090,"rh":1300},
    {"t":9,"wm":790,"wl":710,"wh":870,"rm":930,"rl":850,"rh":1010},
    {"t":10,"wm":620,"wl":560,"wh":680,"rm":600,"rl":540,"rh":660},
    {"t":11,"wm":530,"wl":480,"wh":580,"rm":510,"rl":455,"rh":565},
    {"t":12,"wm":470,"wl":425,"wh":515,"rm":450,"rl":400,"rh":500},
    {"t":13,"wm":440,"wl":395,"wh":485,"rm":400,"rl":355,"rh":445},
    {"t":14,"wm":410,"wl":370,"wh":450,"rm":370,"rl":330,"rh":410},
    {"t":15,"wm":380,"wl":340,"wh":420,"rm":350,"rl":310,"rh":390},
    {"t":16,"wm":360,"wl":320,"wh":400,"rm":330,"rl":290,"rh":370},
    {"t":17,"wm":350,"wl":315,"wh":385,"rm":320,"rl":285,"rh":355},
    {"t":18,"wm":340,"wl":305,"wh":375,"rm":310,"rl":275,"rh":345},
    {"t":19,"wm":330,"wl":295,"wh":365,"rm":305,"rl":270,"rh":340},
    {"t":20,"wm":400,"wl":360,"wh":440,"rm":300,"rl":265,"rh":335},
    {"t":21,"wm":350,"wl":315,"wh":385,"rm":300,"rl":265,"rh":335},
    {"t":22,"wm":330,"wl":295,"wh":365,"rm":290,"rl":255,"rh":325},
    {"t":23,"wm":310,"wl":275,"wh":345,"rm":290,"rl":255,"rh":325},
    {"t":24,"wm":300,"wl":265,"wh":335,"rm":275,"rl":240,"rh":310},
    {"t":25,"wm":290,"wl":255,"wh":325,"rm":260,"rl":225,"rh":295},
    {"t":26,"wm":290,"wl":255,"wh":325,"rm":250,"rl":215,"rh":285},
    {"t":27,"wm":280,"wl":245,"wh":315,"rm":250,"rl":215,"rh":285},
    {"t":28,"wm":260,"wl":225,"wh":295,"rm":240,"rl":205,"rh":275},
    {"t":29,"wm":250,"wl":215,"wh":285,"rm":270,"rl":235,"rh":305},
    {"t":30,"wm":240,"wl":205,"wh":275,"rm":250,"rl":215,"rh":285},
    {"t":31,"wm":230,"wl":195,"wh":265,"rm":230,"rl":195,"rh":265},
    {"t":32,"wm":230,"wl":195,"wh":265,"rm":210,"rl":175,"rh":245},
    {"t":33,"wm":220,"wl":185,"wh":255,"rm":240,"rl":205,"rh":275},
    {"t":34,"wm":200,"wl":165,"wh":235,"rm":230,"rl":195,"rh":265},
    {"t":35,"wm":190,"wl":155,"wh":225,"rm":220,"rl":185,"rh":255},
    {"t":36,"wm":210,"wl":175,"wh":245,"rm":240,"rl":205,"rh":275},
    {"t":37,"wm":220,"wl":185,"wh":255,"rm":230,"rl":195,"rh":265},
    {"t":38,"wm":230,"wl":195,"wh":265,"rm":240,"rl":205,"rh":275},
    {"t":39,"wm":230,"wl":195,"wh":265,"rm":220,"rl":185,"rh":255},
    {"t":40,"wm":220,"wl":185,"wh":255,"rm":210,"rl":175,"rh":245},
    {"t":41,"wm":210,"wl":175,"wh":245,"rm":200,"rl":165,"rh":235},
    {"t":42,"wm":210,"wl":175,"wh":245,"rm":210,"rl":175,"rh":245},
    {"t":43,"wm":200,"wl":165,"wh":235,"rm":190,"rl":155,"rh":225},
    {"t":44,"wm":210,"wl":175,"wh":245,"rm":200,"rl":165,"rh":235},
    {"t":45,"wm":200,"wl":165,"wh":235,"rm":210,"rl":175,"rh":245},
    {"t":46,"wm":200,"wl":165,"wh":235,"rm":200,"rl":165,"rh":235},
    {"t":47,"wm":200,"wl":165,"wh":235,"rm":220,"rl":185,"rh":255},
    {"t":48,"wm":190,"wl":155,"wh":225,"rm":190,"rl":155,"rh":225},
    {"t":49,"wm":190,"wl":155,"wh":225,"rm":220,"rl":185,"rh":255},
    {"t":50,"wm":200,"wl":165,"wh":235,"rm":220,"rl":185,"rh":255},
    {"t":51,"wm":180,"wl":140,"wh":220,"rm":230,"rl":190,"rh":270},
    {"t":52,"wm":150,"wl":110,"wh":190,"rm":250,"rl":210,"rh":290},
    {"t":53,"wm":80,"wl":50,"wh":110,"rm":200,"rl":160,"rh":240},
    {"t":54,"wm":40,"wl":25,"wh":55,"rm":40,"rl":25,"rh":55},
    {"t":55,"wm":20,"wl":10,"wh":30,"rm":20,"rl":10,"rh":30},
    {"t":56,"wm":20,"wl":10,"wh":30,"rm":22,"rl":12,"rh":32},
    {"t":57,"wm":22,"wl":12,"wh":32,"rm":25,"rl":15,"rh":35},
    {"t":58,"wm":20,"wl":10,"wh":30,"rm":30,"rl":20,"rh":40},
    {"t":59,"wm":30,"wl":20,"wh":40,"rm":40,"rl":30,"rh":50}
   ]},
    "encoding": {"x": {"field": "t", "type": "quantitative", "title": "Time (min)", "scale": {"domain": [0, 60], "nice": false}, "axis": {"values": [0,10,20,30,40,50,60], "tickCount": 50, "format": "d", "labelOverlap": false, "titleFontSize": 10}}},
    "layer": [
     {"mark": {"type": "rule", "color": "#000"}, "encoding": {"y": {"field": "wl", "type": "quantitative", "title": ["Normalized MfEPSCs","(% of baseline)"], "scale": {"domain": [0,1300], "nice": false}, "axis": {"values": [0,200,400,600,800,1000,1200], "tickCount": 50, "format": "d", "labelOverlap": false, "titleFontSize": 10}}, "y2": {"field": "wh"}}},
     {"mark": {"type": "point", "filled": true, "opacity": 1, "color": "#000", "size": 45}, "encoding": {"y": {"field": "wm", "type": "quantitative", "title": ["Normalized MfEPSCs","(% of baseline)"], "scale": {"domain": [0,1300], "nice": false}}}},
     {"mark": {"type": "rule", "color": "#7a1a0a"}, "encoding": {"y": {"field": "rl", "type": "quantitative", "title": ["Normalized MfEPSCs","(% of baseline)"], "scale": {"domain": [0,1300], "nice": false}}, "y2": {"field": "rh"}}},
     {"mark": {"type": "point", "filled": true, "opacity": 1, "color": "#ff2600", "stroke": "#7a1a0a", "strokeWidth": 0.6, "size": 45}, "encoding": {"y": {"field": "rm", "type": "quantitative", "title": ["Normalized MfEPSCs","(% of baseline)"], "scale": {"domain": [0,1300], "nice": false}}}}
    ]},
   {"data": {"values": [{}]}, "mark": {"type": "text", "text": "J", "fontSize": 15, "fontWeight": "bold", "align": "left", "baseline": "alphabetic", "color": "#000"}, "encoding": {"x": {"datum": -21, "title": "Time (min)", "scale": {"domain": [0, 60], "nice": false}}, "y": {"datum": 1545, "title": ["Normalized MfEPSCs","(% of baseline)"], "scale": {"domain": [0,1300], "nice": false}}}},
   {"data": {"values": [{}]}, "mark": {"type": "rule", "color": "#444", "strokeDash": [1.5,1.5]}, "encoding": {"x": {"datum": 11.5, "title": "Time (min)", "scale": {"domain": [0, 60], "nice": false}}, "x2": {"datum": 51}, "y": {"datum": 100, "title": ["Normalized MfEPSCs","(% of baseline)"], "scale": {"domain": [0,1300], "nice": false}}}},
   {"data": {"values": [{}]}, "mark": {"type": "point", "shape": "triangle-up", "filled": true, "opacity": 1, "color": "#000", "size": 45}, "encoding": {"x": {"datum": 11.7, "title": "Time (min)", "scale": {"domain": [0, 60], "nice": false}}, "y": {"datum": 30, "title": ["Normalized MfEPSCs","(% of baseline)"], "scale": {"domain": [0,1300], "nice": false}}}},
   {"data": {"values": [{}]}, "mark": {"type": "rule", "color": "#000", "strokeWidth": 2}, "encoding": {"x": {"datum": 47.2, "title": "Time (min)", "scale": {"domain": [0, 60], "nice": false}}, "x2": {"datum": 54.9}, "y": {"datum": 280, "title": ["Normalized MfEPSCs","(% of baseline)"], "scale": {"domain": [0,1300], "nice": false}}}},
   {"data": {"values": [{}]}, "mark": {"type": "text", "fontSize": 7, "color": "#000"}, "encoding": {"x": {"datum": 51.5, "title": "Time (min)", "scale": {"domain": [0, 60], "nice": false}}, "y": {"datum": 510, "title": ["Normalized MfEPSCs","(% of baseline)"], "scale": {"domain": [0,1300], "nice": false}}, "text": {"value": "LCCG-1"}}}
  ]},
 {"width": 66, "height": 113,
  "data": {"values": [{"g":"WT","v":700,"e":772},{"g":"APP/PS1","v":748,"e":858}]},
  "encoding": {"x": {"field": "g", "type": "nominal", "sort": ["WT","APP/PS1"], "scale": {"paddingInner": 0.303, "paddingOuter": 0.152}, "axis": {"title": null}}},
  "layer": [
   {"mark": {"type": "bar", "stroke": "#000", "strokeWidth": 1},
    "encoding": {"y": {"field": "v", "type": "quantitative", "title": "PTP (% of baseline)", "scale": {"domain": [0,1000], "nice": false}, "axis": {"values": [0,250,500,750,1000], "tickCount": 50, "format": "d", "labelOverlap": false, "titleFontSize": 10}},
     "color": {"field": "g", "type": "nominal", "scale": {"domain": ["WT","APP/PS1"], "range": ["#000000","#ff2600"]}, "legend": null}}},
   {"mark": {"type": "rule", "color": "#000"}, "encoding": {"y": {"field": "v", "type": "quantitative", "title": "PTP (% of baseline)", "scale": {"domain": [0,1000], "nice": false}}, "y2": {"field": "e"}}},
   {"mark": {"type": "tick", "color": "#000", "size": 9, "thickness": 1}, "encoding": {"y": {"field": "e", "type": "quantitative", "title": "PTP (% of baseline)", "scale": {"domain": [0,1000], "nice": false}}}},
   {"data": {"values": [{}]}, "mark": {"type": "text", "text": "K", "fontSize": 15, "fontWeight": "bold", "align": "left", "baseline": "alphabetic", "dx": -58.5, "color": "#000"}, "encoding": {"x": {"datum": "WT"}, "y": {"datum": 1188.5, "title": "PTP (% of baseline)", "scale": {"domain": [0,1000], "nice": false}}}}
  ]},
 {"width": 67, "height": 113,
  "data": {"values": [{"g":"WT","v":182,"e":205},{"g":"APP/PS1","v":199,"e":248}]},
  "encoding": {"x": {"field": "g", "type": "nominal", "sort": ["WT","APP/PS1"], "scale": {"paddingInner": 0.348, "paddingOuter": 0.145}, "axis": {"title": null}}},
  "layer": [
   {"mark": {"type": "bar", "stroke": "#000", "strokeWidth": 1},
    "encoding": {"y": {"field": "v", "type": "quantitative", "title": "LTP (% of baseline)", "scale": {"domain": [0,250], "nice": false}, "axis": {"values": [0,50,100,150,200,250], "tickCount": 50, "format": "d", "labelOverlap": false, "titleFontSize": 10}},
     "color": {"field": "g", "type": "nominal", "scale": {"domain": ["WT","APP/PS1"], "range": ["#000000","#ff2600"]}, "legend": null}}},
   {"mark": {"type": "rule", "color": "#000"}, "encoding": {"y": {"field": "v", "type": "quantitative", "title": "LTP (% of baseline)", "scale": {"domain": [0,250], "nice": false}}, "y2": {"field": "e"}}},
   {"mark": {"type": "tick", "color": "#000", "size": 9, "thickness": 1}, "encoding": {"y": {"field": "e", "type": "quantitative", "title": "LTP (% of baseline)", "scale": {"domain": [0,250], "nice": false}}}},
   {"data": {"values": [{}]}, "mark": {"type": "text", "text": "L", "fontSize": 15, "fontWeight": "bold", "align": "left", "baseline": "alphabetic", "dx": -53.3, "color": "#000"}, "encoding": {"x": {"datum": "WT"}, "y": {"datum": 297.1, "title": "LTP (% of baseline)", "scale": {"domain": [0,250], "nice": false}}}}
  ]},
 {"width": 204, "height": 113,
  "layer": [
   {"data": {"values": [
    {"id":"m1","t":3.4,"v":0},{"id":"m1","t":18.3,"v":0},{"id":"m1","t":18.9,"v":9},{"id":"m1","t":19.5,"v":-71},{"id":"m1","t":23.7,"v":-61},{"id":"m1","t":30.4,"v":-31},{"id":"m1","t":40.6,"v":-11},{"id":"m1","t":54.2,"v":-4},{"id":"m1","t":87.8,"v":0},
    {"id":"m2","t":33.9,"v":0},{"id":"m2","t":45.2,"v":0},{"id":"m2","t":46,"v":29},{"id":"m2","t":46.7,"v":-37},{"id":"m2","t":50.7,"v":-61},{"id":"m2","t":57.4,"v":-29},{"id":"m2","t":67.5,"v":-7},{"id":"m2","t":81.1,"v":-2},{"id":"m2","t":101.4,"v":0},
    {"id":"m3","t":111.6,"v":0},{"id":"m3","t":126.4,"v":0},{"id":"m3","t":127.2,"v":16},{"id":"m3","t":127.8,"v":-40},{"id":"m3","t":133.9,"v":-500},{"id":"m3","t":138.5,"v":-284},{"id":"m3","t":145.4,"v":-124},{"id":"m3","t":155.6,"v":-51},{"id":"m3","t":169,"v":-24},{"id":"m3","t":182.6,"v":-15},
    {"id":"m4","t":152.1,"v":0},{"id":"m4","t":169.8,"v":0},{"id":"m4","t":170.4,"v":24},{"id":"m4","t":171,"v":-40},{"id":"m4","t":177.1,"v":-531},{"id":"m4","t":182.6,"v":-284},{"id":"m4","t":189.2,"v":-124},{"id":"m4","t":199.4,"v":-44},{"id":"m4","t":213,"v":-15},{"id":"m4","t":223.1,"v":-8},
    {"id":"m5","t":235.3,"v":0},{"id":"m5","t":250.9,"v":0},{"id":"m5","t":251.5,"v":16},{"id":"m5","t":252.1,"v":-30},{"id":"m5","t":255.6,"v":-137},{"id":"m5","t":260.2,"v":-71},{"id":"m5","t":267.1,"v":-33},{"id":"m5","t":277.3,"v":-16},{"id":"m5","t":290.7,"v":-8},{"id":"m5","t":304.3,"v":-2},
    {"id":"m6","t":267.1,"v":0},{"id":"m6","t":283.4,"v":0},{"id":"m6","t":284,"v":20},{"id":"m6","t":284.6,"v":-30},{"id":"m6","t":287.4,"v":-140},{"id":"m6","t":292.1,"v":-77},{"id":"m6","t":298.8,"v":-37},{"id":"m6","t":311,"v":-16},{"id":"m6","t":331.2,"v":-4},{"id":"m6","t":344.8,"v":0},
    {"id":"m7","t":365.1,"v":0},{"id":"m7","t":379.3,"v":0},{"id":"m7","t":379.9,"v":16},{"id":"m7","t":380.5,"v":-30},{"id":"m7","t":384,"v":-20},{"id":"m7","t":392.1,"v":-11},{"id":"m7","t":405.7,"v":-4},{"id":"m7","t":432.7,"v":0},
    {"id":"m8","t":395.5,"v":0},{"id":"m8","t":410.3,"v":0},{"id":"m8","t":411.2,"v":23},{"id":"m8","t":411.8,"v":-37},{"id":"m8","t":415.8,"v":-13},{"id":"m8","t":426,"v":-8},{"id":"m8","t":446.2,"v":-1},{"id":"m8","t":470,"v":0}
   ]},
    "mark": {"type": "line", "strokeWidth": 1},
    "encoding": {
     "x": {"field": "t", "type": "quantitative", "scale": {"domain": [71, 484.8], "nice": false}, "axis": null},
     "y": {"field": "v", "type": "quantitative", "scale": {"domain": [-416, 36], "nice": false}, "axis": null},
     "color": {"field": "id", "type": "nominal", "scale": {"domain": ["m1","m2","m3","m4","m5","m6","m7","m8"], "range": ["#000","#ff2600","#000","#ff2600","#000","#ff2600","#000","#ff2600"]}, "legend": null}
    }},
   {"data": {"values": [{}]}, "mark": {"type": "text", "text": "M", "fontSize": 15, "fontWeight": "bold", "align": "left", "baseline": "alphabetic", "color": "#000"}, "encoding": {"x": {"datum": -26.4, "scale": {"domain": [71, 484.8], "nice": false}, "axis": null}, "y": {"datum": 121.2, "scale": {"domain": [-416, 36], "nice": false}, "axis": null}}},
   {"data": {"values": [{}]}, "mark": {"type": "rule", "color": "#999", "strokeDash": [4,3]}, "encoding": {"x": {"datum": 6.7, "scale": {"domain": [71, 484.8], "nice": false}, "axis": null}, "x2": {"datum": 473}, "y": {"datum": -64, "scale": {"domain": [-416, 36], "nice": false}, "axis": null}}},
   {"data": {"values": [{}]}, "mark": {"type": "text", "fontSize": 8.5, "color": "#222"}, "encoding": {"x": {"datum": 43.2, "scale": {"domain": [71, 484.8], "nice": false}, "axis": null}, "y": {"datum": 80, "scale": {"domain": [-416, 36], "nice": false}, "axis": null}, "text": {"value": "Baseline"}}},
   {"data": {"values": [{}]}, "mark": {"type": "text", "fontSize": 8.5, "color": "#222"}, "encoding": {"x": {"datum": 154.2, "scale": {"domain": [71, 484.8], "nice": false}, "axis": null}, "y": {"datum": 80, "scale": {"domain": [-416, 36], "nice": false}, "axis": null}, "text": {"value": "PTP (5min)"}}},
   {"data": {"values": [{}]}, "mark": {"type": "text", "fontSize": 8.5, "color": "#222"}, "encoding": {"x": {"datum": 292.4, "scale": {"domain": [71, 484.8], "nice": false}, "axis": null}, "y": {"datum": 80, "scale": {"domain": [-416, 36], "nice": false}, "axis": null}, "text": {"value": "30’ after train"}}},
   {"data": {"values": [{}]}, "mark": {"type": "text", "fontSize": 8.5, "color": "#222"}, "encoding": {"x": {"datum": 407.4, "scale": {"domain": [71, 484.8], "nice": false}, "axis": null}, "y": {"datum": 80, "scale": {"domain": [-416, 36], "nice": false}, "axis": null}, "text": {"value": "LCCG-I"}}},
   {"data": {"values": [{}]}, "mark": {"type": "rule", "color": "#333"}, "encoding": {"x": {"datum": 430.6, "scale": {"domain": [71, 484.8], "nice": false}, "axis": null}, "y": {"datum": -144, "scale": {"domain": [-416, 36], "nice": false}, "axis": null}, "y2": {"datum": -244}}},
   {"data": {"values": [{}]}, "mark": {"type": "rule", "color": "#333"}, "encoding": {"x": {"datum": 405.7, "scale": {"domain": [71, 484.8], "nice": false}, "axis": null}, "x2": {"datum": 430.6}, "y": {"datum": -244, "scale": {"domain": [-416, 36], "nice": false}, "axis": null}}},
   {"data": {"values": [{}]}, "mark": {"type": "text", "angle": 270, "fontSize": 9, "color": "#333"}, "encoding": {"x": {"datum": 454.4, "scale": {"domain": [71, 484.8], "nice": false}, "axis": null}, "y": {"datum": -193, "scale": {"domain": [-416, 36], "nice": false}, "axis": null}, "text": {"value": "100 pA"}}},
   {"data": {"values": [{}]}, "mark": {"type": "text", "fontSize": 8.5, "color": "#333"}, "encoding": {"x": {"datum": 412.4, "scale": {"domain": [71, 484.8], "nice": false}, "axis": null}, "y": {"datum": -291, "scale": {"domain": [-416, 36], "nice": false}, "axis": null}, "text": {"value": "25 msec"}}},
   {"data": {"values": [{}]}, "mark": {"type": "rule", "color": "#000"}, "encoding": {"x": {"datum": 334.7, "scale": {"domain": [71, 484.8], "nice": false}, "axis": null}, "x2": {"datum": 358.4}, "y": {"datum": -414.7, "scale": {"domain": [-416, 36], "nice": false}, "axis": null}}},
   {"data": {"values": [{}]}, "mark": {"type": "rule", "color": "#ff2600"}, "encoding": {"x": {"datum": 334.7, "scale": {"domain": [71, 484.8], "nice": false}, "axis": null}, "x2": {"datum": 358.4}, "y": {"datum": -453, "scale": {"domain": [-416, 36], "nice": false}, "axis": null}}},
   {"data": {"values": [{}]}, "mark": {"type": "text", "align": "left", "fontWeight": "bold", "fontSize": 9, "color": "#000"}, "encoding": {"x": {"datum": 370.6, "scale": {"domain": [71, 484.8], "nice": false}, "axis": null}, "y": {"datum": -414.7, "scale": {"domain": [-416, 36], "nice": false}, "axis": null}, "text": {"value": "Wt"}}},
   {"data": {"values": [{}]}, "mark": {"type": "text", "align": "left", "fontWeight": "bold", "fontSize": 9, "color": "#000"}, "encoding": {"x": {"datum": 370.6, "scale": {"domain": [71, 484.8], "nice": false}, "axis": null}, "y": {"datum": -453, "scale": {"domain": [-416, 36], "nice": false}, "axis": null}, "text": {"value": "APP/PS1"}}}
  ]}
], "spacing": 49, "bounds": "flush", "resolve": {"scale": {"color": "independent"}}}
]}
]
}
